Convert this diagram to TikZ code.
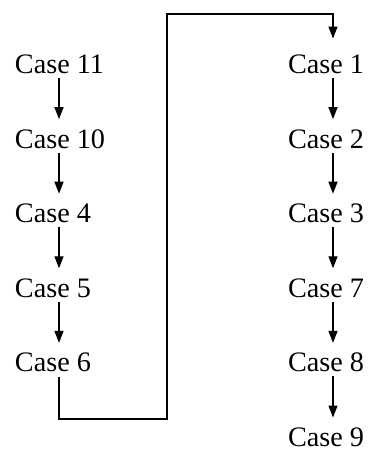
\documentclass[tikz,border=0pt]{standalone}
\usepackage{fontspec}
\setmainfont{Liberation Serif}
\usetikzlibrary{arrows.meta}
\begin{document}
\begin{tikzpicture}[x=1pt,y=1pt,
  casebox/.style={inner sep=0pt, outer sep=0pt, anchor=west, text height=19pt, text depth=0pt,
    font=\fontsize{28.2}{30}\selectfont},
  arr/.style={line width=1.3pt, -{Triangle[length=12pt,width=9pt]}, shorten <=4.5pt, shorten >=10pt},
  link/.style={line width=1.3pt, -{Triangle[length=12pt,width=9pt]}, shorten <=5.5pt, shorten >=16pt}]
\useasboundingbox (0,0) rectangle (372,-453);
\coordinate (lx) at (59,0);
\coordinate (rx) at (333,0);
% left column
\node[casebox] (c11) at (15,-64) {Case 11};
\node[casebox] (c10) at (15,-138.6) {Case 10};
\node[casebox] (c4) at (15,-213.2) {Case 4};
\node[casebox] (c5) at (15,-287.8) {Case 5};
\node[casebox] (c6) at (15,-362.4) {Case 6};
% right column
\node[casebox] (c1) at (288,-64) {Case 1};
\node[casebox] (c2) at (288,-138.6) {Case 2};
\node[casebox] (c3) at (288,-213.2) {Case 3};
\node[casebox] (c7) at (288,-287.8) {Case 7};
\node[casebox] (c8) at (288,-362.4) {Case 8};
\node[casebox] (c9) at (288,-437) {Case 9};
% arrows
\draw[arr] (c11.south -| lx) -- (c10.north -| lx);
\draw[arr] (c10.south -| lx) -- (c4.north -| lx);
\draw[arr] (c4.south -| lx) -- (c5.north -| lx);
\draw[arr] (c5.south -| lx) -- (c6.north -| lx);
\draw[arr] (c1.south -| rx) -- (c2.north -| rx);
\draw[arr] (c2.south -| rx) -- (c3.north -| rx);
\draw[arr] (c3.south -| rx) -- (c7.north -| rx);
\draw[arr] (c7.south -| rx) -- (c8.north -| rx);
\draw[arr] (c8.south -| rx) -- (c9.north -| rx);
% link
\coordinate (p1) at (167,-419);
\coordinate (p2) at (167,-14);
\draw[link] (c6.south -| lx) |- (p1) -- (p2) -| (c1.north -| rx);
\end{tikzpicture}
\end{document}
